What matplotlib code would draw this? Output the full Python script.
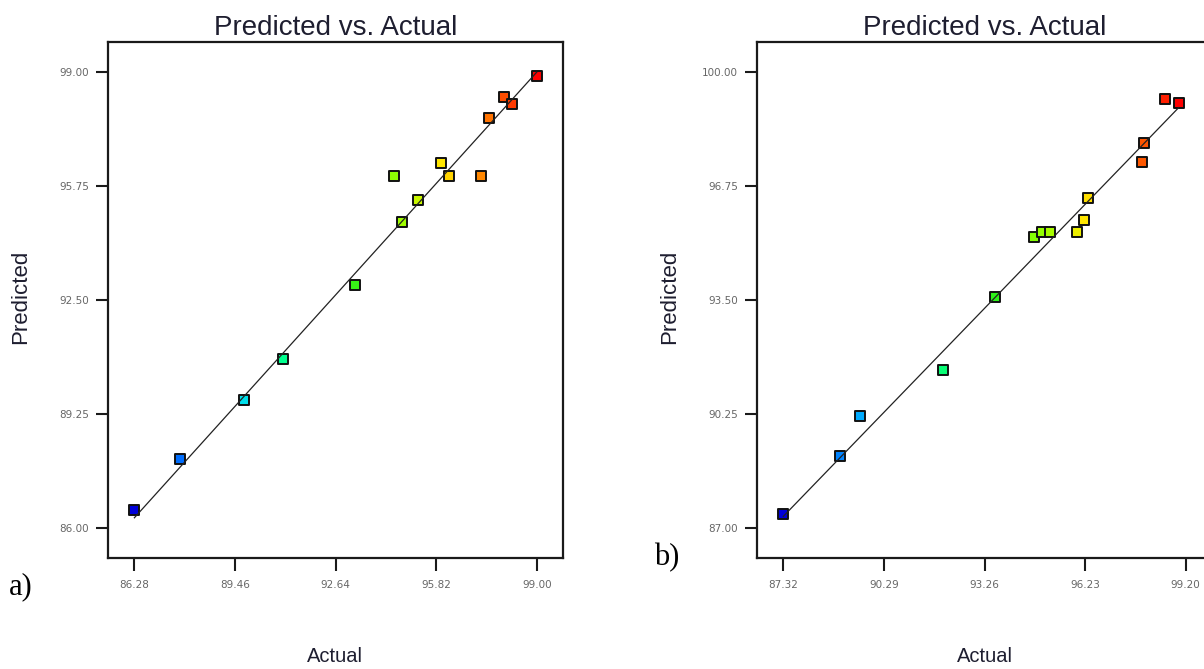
import numpy as np
import matplotlib
matplotlib.use("Agg")
import matplotlib.pyplot as plt
from matplotlib.colors import LinearSegmentedColormap, Normalize

# panel a) data: actual vs predicted
actual_a = [86.28, 87.73, 89.73, 90.97, 93.24, 94.48, 94.74, 95.25, 95.97, 96.22,
            97.24, 97.48, 97.98, 98.23, 99.00]
pred_a = [86.50, 87.95, 89.63, 90.82, 92.93, 96.04, 94.73, 95.35, 96.42, 96.04,
          96.04, 97.70, 98.29, 98.10, 98.89]
xticks_a = [86.28, 89.46, 92.64, 95.82, 99.00]
yticks_a = [86.00, 89.25, 92.50, 95.75, 99.00]

# panel b) data
actual_b = [87.32, 88.99, 89.58, 92.04, 93.57, 94.73, 94.97, 95.19, 95.98, 96.21,
            96.31, 97.92, 97.98, 98.60, 98.99]
pred_b = [87.40, 89.03, 90.18, 91.51, 93.58, 95.30, 95.44, 95.44, 95.44, 95.78,
          96.42, 97.43, 97.97, 99.25, 99.13]
xticks_b = [87.32, 90.29, 93.26, 96.23, 99.20]
yticks_b = [87.00, 90.25, 93.50, 96.75, 100.00]

W, H = 1204, 669
fig = plt.figure(figsize=(W / 100, H / 100), dpi=100)

# rainbow like the design-expert point colouring
cmap = LinearSegmentedColormap.from_list("de", [
    (0.00, (0.0, 0.0, 0.85)),
    (0.12, (0.0, 0.45, 1.0)),
    (0.25, (0.0, 0.85, 1.0)),
    (0.37, (0.0, 1.0, 0.55)),
    (0.53, (0.15, 0.95, 0.1)),
    (0.66, (0.6, 1.0, 0.0)),
    (0.76, (1.0, 0.92, 0.0)),
    (0.87, (1.0, 0.5, 0.0)),
    (1.00, (1.0, 0.0, 0.0)),
])

txt_col = "#1e1e30"


def px(x, y):
    return x / W, 1 - y / H


def panel(left_px, actual, pred, xticks, yticks, xlim, ylim, tag, tagpos):
    ax = fig.add_axes([left_px / W, (H - 557.7) / H, 455.8 / W, 516.0 / H])
    a = np.array(actual)
    norm = Normalize(a.min(), a.max())
    ax.scatter(actual, pred, marker="s", s=52, c=cmap(norm(a)),
               edgecolors="#111111", linewidths=1.4, zorder=2)
    ax.plot([a.min(), a.max()], [a.min(), a.max()], color="#222222", lw=0.9, zorder=3)
    ax.set_xlim(xlim)
    ax.set_ylim(ylim)
    ax.set_xticks(xticks)
    ax.set_yticks(yticks)
    ax.set_xticklabels(["%.2f" % v for v in xticks])
    ax.set_yticklabels(["%.2f" % v for v in yticks])
    ax.tick_params(length=9, width=1.5, color="#1a1a1a", labelsize=7.5,
                   labelcolor="#666666")
    ax.tick_params(axis="x", pad=7)
    ax.tick_params(axis="y", pad=4.5)
    for s in ax.spines.values():
        s.set_linewidth(1.6)
        s.set_color("#1a1a1a")
    cx = left_px + 455.8 / 2
    fig.text(*px(cx, 35), "Predicted vs. Actual", ha="center", va="baseline",
             fontsize=20, color=txt_col, family="Liberation Sans")
    fig.text(*px(cx, 657), "Actual", ha="center", va="center",
             fontsize=14.5, color=txt_col, family="Liberation Sans")
    fig.text(*px(left_px - 87, 297), "Predicted", ha="center", va="center",
             rotation=90, fontsize=16, color=txt_col, family="Liberation Sans")
    fig.text(*px(*tagpos), tag, ha="center", va="center", fontsize=22,
             color="black", family="Liberation Serif")
    return ax


panel(107.5, actual_a, pred_a, xticks_a, yticks_a,
      (85.43, 99.84), (85.14, 99.87), "a)", (20.5, 587))
panel(756.7, actual_b, pred_b, xticks_b, yticks_b,
      (86.535, 99.99), (86.14, 100.874), "b)", (666.5, 557.5))

fig.savefig("out.png", dpi=100)
